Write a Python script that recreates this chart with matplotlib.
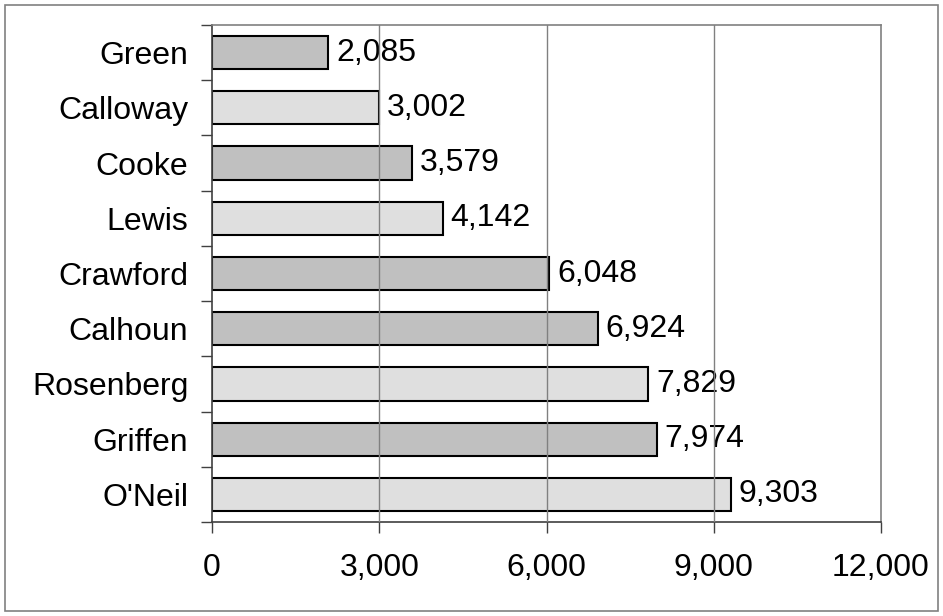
import matplotlib
matplotlib.use("Agg")
import matplotlib.pyplot as plt
from matplotlib.patches import Rectangle
from matplotlib.ticker import FuncFormatter

names = ["Green", "Calloway", "Cooke", "Lewis", "Crawford", "Calhoun", "Rosenberg", "Griffen", "O'Neil"]
values = [2085, 3002, 3579, 4142, 6048, 6924, 7829, 7974, 9303]
shades = ["dark", "light", "dark", "light", "dark", "dark", "light", "dark", "light"]
palette = {"dark": "#C0C0C0", "light": "#DFDFDF"}
xticks = [0, 3000, 6000, 9000, 12000]

plt.rcParams['font.family'] = ['Liberation Sans', 'DejaVu Sans']
FS = 23

fig = plt.figure(figsize=(9.43, 6.16), dpi=100)
fig.patches.append(Rectangle((5/943, 5/616), 933/943, 606/616, transform=fig.transFigure,
                             fill=False, edgecolor="#808080", linewidth=1.2))
ax = fig.add_axes([212/943, 1 - 522/616, (881-212)/943, (522-25)/616])

n = len(names)
ypos = list(range(n))
ax.barh(ypos, values, height=0.6, color=[palette[s] for s in shades],
        edgecolor="black", linewidth=1.5, zorder=2)
ax.set_ylim(n - 0.5, -0.5)
ax.set_xlim(0, 12000)
ax.set_xticks(xticks)
ax.xaxis.set_major_formatter(FuncFormatter(lambda v, p: f"{int(v):,}"))
ax.set_yticks(ypos)
ax.set_yticklabels(names)
ax.set_yticks([i - 0.5 for i in range(n + 1)], minor=True)
ax.tick_params(axis='y', which='major', length=0, pad=17, labelsize=FS)
ax.tick_params(axis='y', which='minor', length=8, width=1, color="#404040")
ax.tick_params(axis='x', which='major', length=8, width=1, color="#404040", pad=14, labelsize=FS)
for x in xticks[1:-1]:
    ax.axvline(x, color="#808080", linewidth=1, zorder=4)
for sp in ax.spines.values():
    sp.set_color("#808080")
    sp.set_linewidth(1.2)
ax.spines['left'].set_color("#404040")
ax.spines['bottom'].set_color("#404040")
for i, v in enumerate(values):
    ax.text(v + 140, i, f"{v:,}", va='center', ha='left', fontsize=FS, zorder=3)

fig.savefig("out.png", dpi=100)
